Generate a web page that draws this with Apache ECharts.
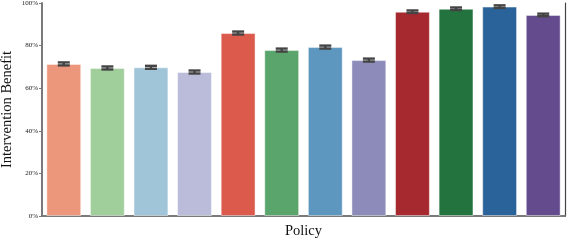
<!DOCTYPE html>
<html><head><meta charset="utf-8">
<script src="https://cdn.jsdelivr.net/npm/echarts@6/dist/echarts.min.js"></script>
<style>html,body{margin:0;padding:0;background:#fff}#c{width:568px;height:240px}</style>
</head><body><div id="c"></div>
<script>
const categories = ['P1','P2','P3','P4','P5','P6','P7','P8','P9','P10','P11','P12'];
const values = [0.714, 0.695, 0.698, 0.676, 0.859, 0.779, 0.793, 0.732, 0.959, 0.973, 0.983, 0.944];
const errLow = [0.707, 0.688, 0.691, 0.669, 0.852, 0.772, 0.786, 0.725, 0.953, 0.967, 0.977, 0.938];
const errHigh = [0.721, 0.702, 0.705, 0.683, 0.866, 0.786, 0.800, 0.739, 0.965, 0.979, 0.989, 0.950];
const colors = ['#EC977C','#A1CF9C','#A0C4D8','#BBBBDA','#DC5A4C','#5AA56B','#5D96BE','#8D8BBA','#A6292F','#23733F','#2A6399','#634B8E'];
const yTicks = [0, 0.2, 0.4, 0.6, 0.8, 1.0];

const chart = echarts.init(document.getElementById('c'));
const serif = 'Liberation Serif';
chart.setOption({
  animation: false,
  grid: {left: 42, right: 3, top: 3, bottom: 24, containLabel: false, outerBoundsMode: 'none'},
  xAxis: [{
    type: 'category', data: categories,
    name: 'Policy', nameLocation: 'middle', nameGap: 8, nameMoveOverlap: false,
    nameTextStyle: {fontFamily: serif, fontSize: 14.5, color: '#111'},
    axisLine: {lineStyle: {color: '#000', width: 1.5}},
    axisTick: {show: false}, axisLabel: {show: false}
  }, {
    type: 'category', data: categories, position: 'top',
    axisLine: {lineStyle: {color: '#7a7a7a', width: 2}},
    axisTick: {show: false}, axisLabel: {show: false}
  }],
  yAxis: [{
    type: 'value', min: 0, max: 1, interval: 0.2,
    name: 'Intervention Benefit', nameLocation: 'middle', nameGap: 27, nameMoveOverlap: false,
    nameTextStyle: {fontFamily: serif, fontSize: 14.5, color: '#111'},
    axisLine: {show: true, lineStyle: {color: '#7a7a7a', width: 2}},
    axisTick: {show: true, length: 3, lineStyle: {color: '#7a7a7a'}},
    axisLabel: {fontFamily: serif, fontSize: 7, color: '#222', margin: 4,
      formatter: v => Math.round(v * 100) + '%'},
    splitLine: {show: false}
  }, {
    type: 'value', min: 0, max: 1, position: 'right',
    axisLine: {show: true, lineStyle: {color: '#444', width: 1.2}},
    axisTick: {show: false}, axisLabel: {show: false}, splitLine: {show: false}
  }],
  series: [{
    type: 'bar', data: values.map((v, i) => ({value: v, itemStyle: {color: colors[i]}})),
    barCategoryGap: '20%',
    itemStyle: {borderColor: 'rgba(255,255,255,0.45)', borderWidth: 1}
  }, {
    type: 'custom',
    data: categories.map((c, i) => [i, errLow[i], errHigh[i]]),
    renderItem: (params, api) => {
      const lo = api.coord([api.value(0), api.value(1)]);
      const hi = api.coord([api.value(0), api.value(2)]);
      const hw = 6;
      const st = {stroke: '#444', lineWidth: 2.4};
      return {type: 'group', children: [
        {type: 'line', shape: {x1: lo[0], y1: lo[1], x2: hi[0], y2: hi[1]}, style: st},
        {type: 'line', shape: {x1: lo[0]-hw, y1: lo[1], x2: lo[0]+hw, y2: lo[1]}, style: st},
        {type: 'line', shape: {x1: hi[0]-hw, y1: hi[1], x2: hi[0]+hw, y2: hi[1]}, style: st}
      ]};
    },
    z: 5
  }]
});
</script></body></html>
